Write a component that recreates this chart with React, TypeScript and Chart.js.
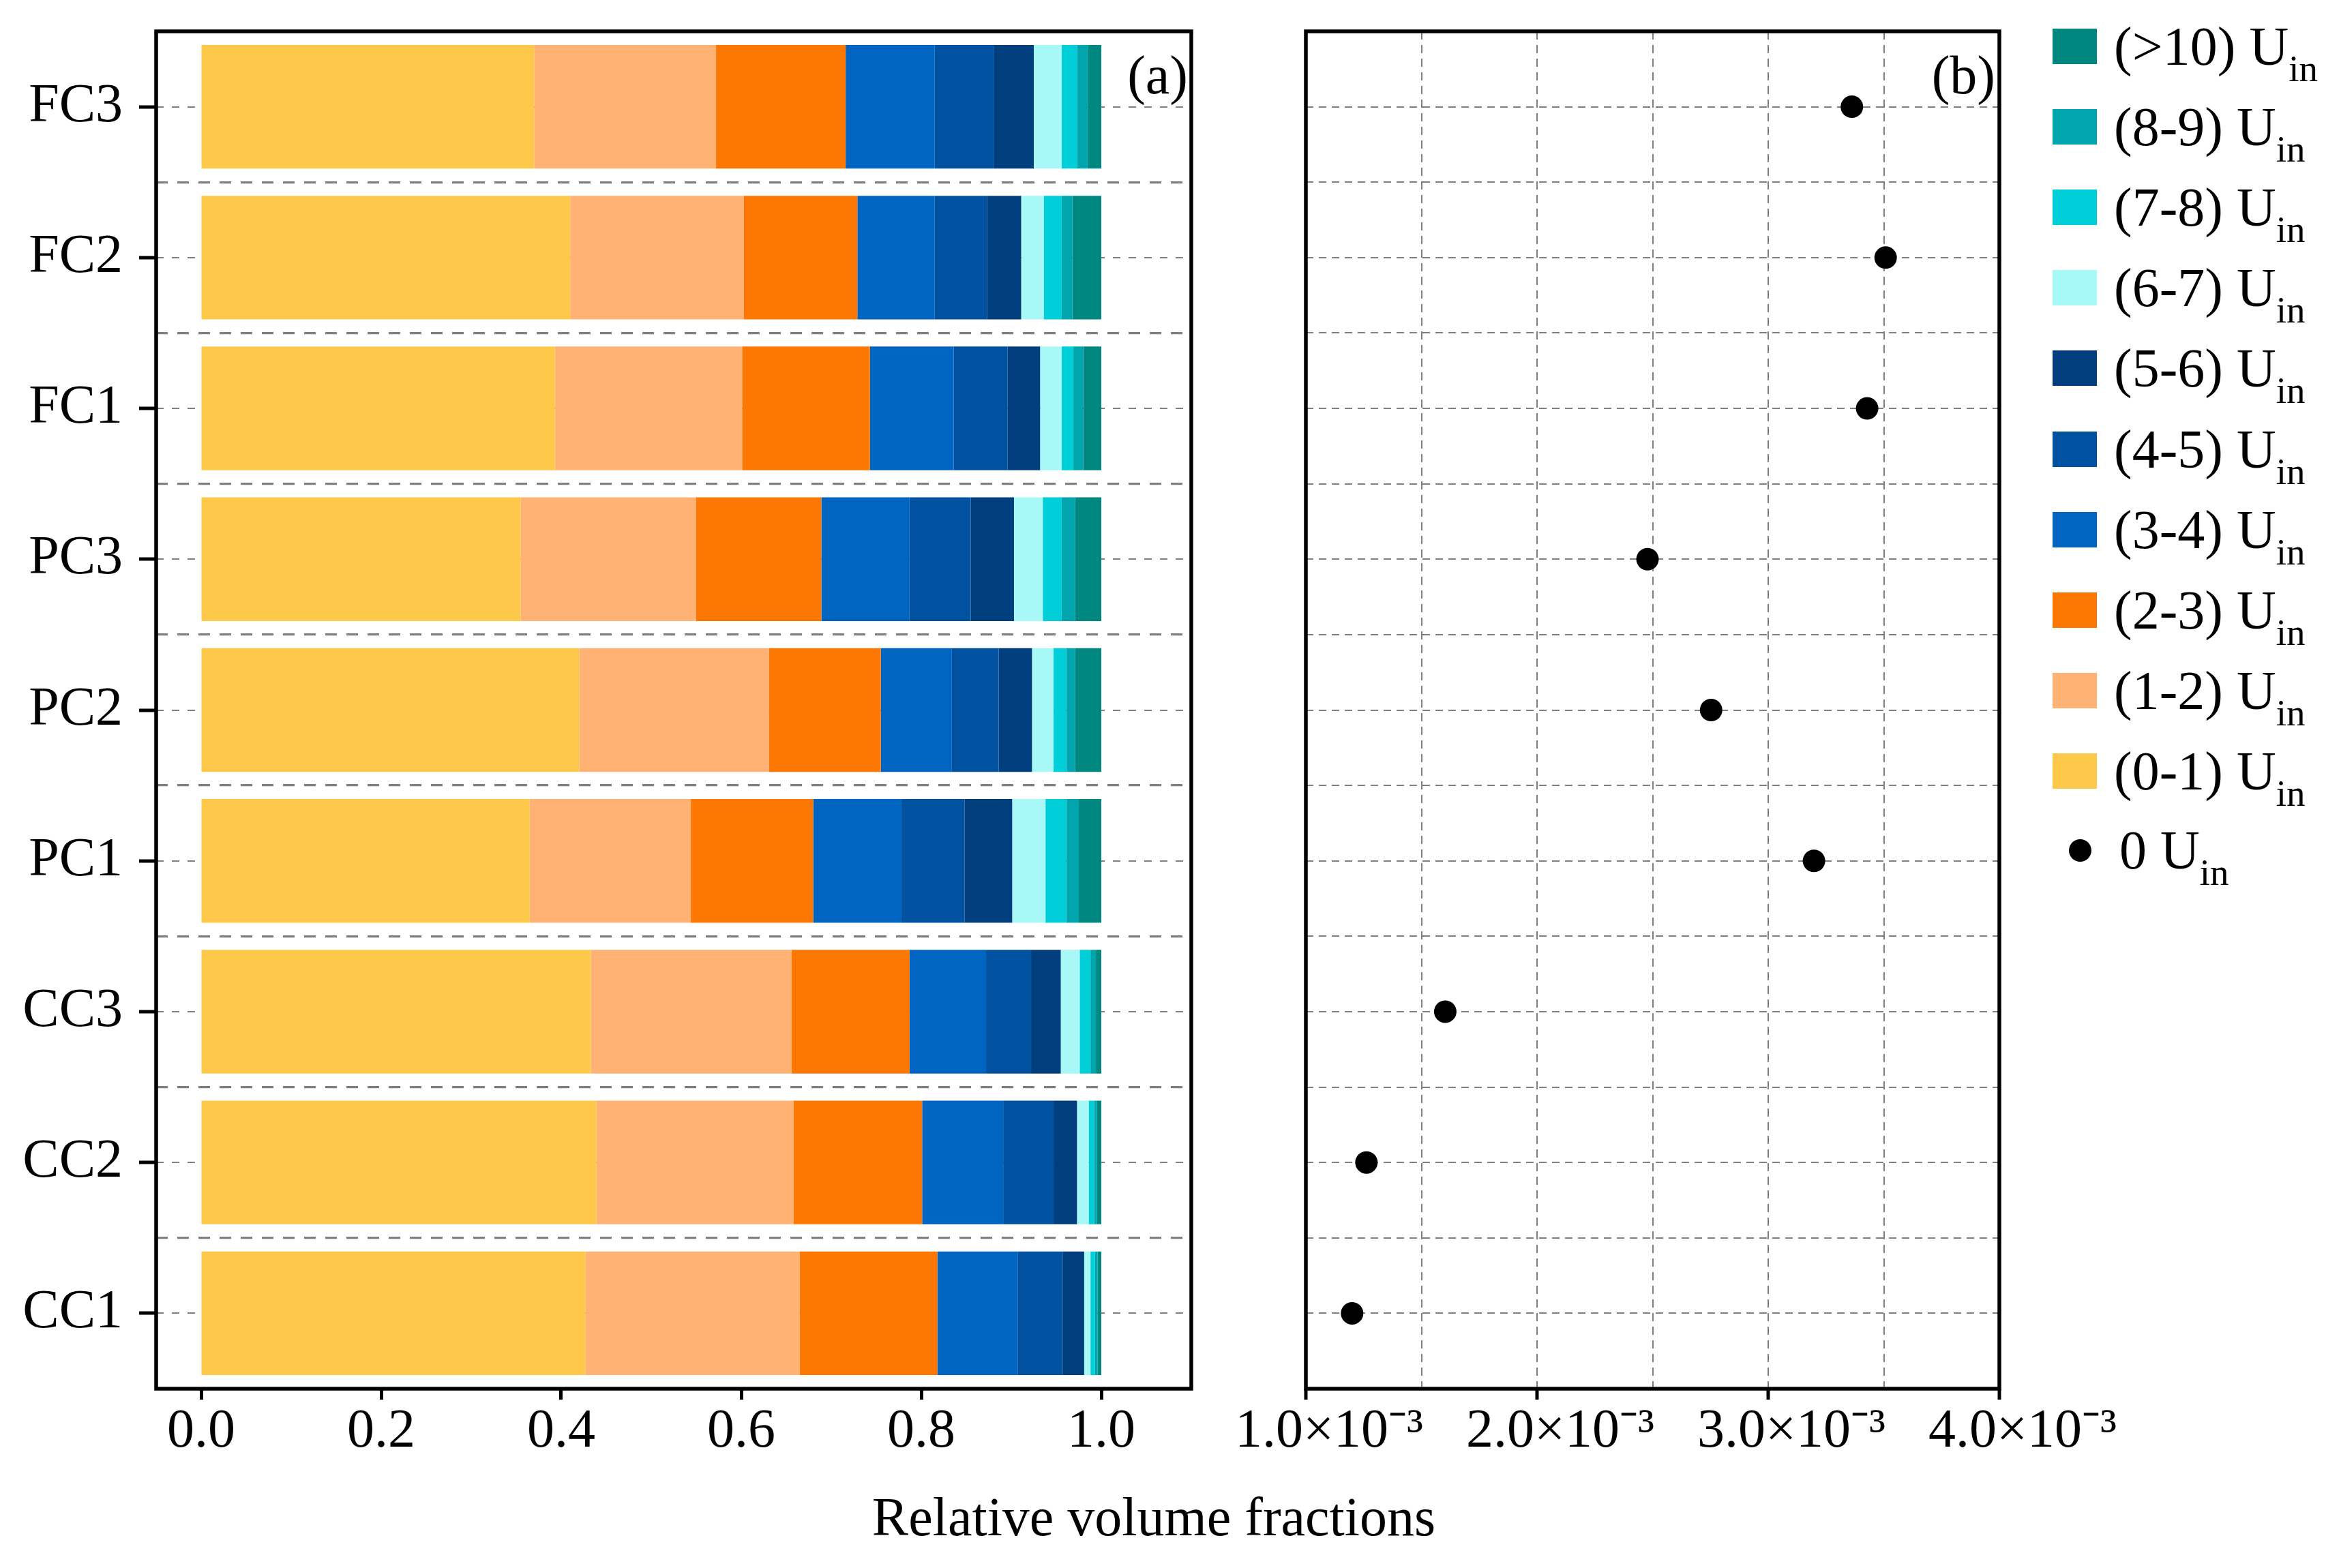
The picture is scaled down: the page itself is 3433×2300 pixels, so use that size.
import { useEffect, useRef } from 'react';
import Chart from 'chart.js/auto';

const FONT = "'Liberation Serif', 'Times New Roman', Times, serif";

// cases, bottom (y = 0) to top
const caseLabels = ['CC1', 'CC2', 'CC3', 'PC1', 'PC2', 'PC3', 'FC1', 'FC2', 'FC3'];

// velocity bins, stacked left to right
const binLabels = ['(0-1)', '(1-2)', '(2-3)', '(3-4)', '(4-5)', '(5-6)', '(6-7)', '(7-8)', '(8-9)', '(>10)'];
const binColors = ['#FEC94B', '#FFB273', '#FD7703', '#0065C1', '#0052A0', '#003E7E', '#A9F8F8', '#00CED9', '#00A5AD', '#008780'];

// relative volume fraction of each bin, one value per case (caseLabels order)
const frac0to1 = [0.427, 0.439, 0.433, 0.365, 0.420, 0.355, 0.393, 0.410, 0.370];
const frac1to2 = [0.238, 0.219, 0.223, 0.179, 0.211, 0.195, 0.208, 0.193, 0.202];
const frac2to3 = [0.153, 0.143, 0.131, 0.136, 0.124, 0.139, 0.142, 0.126, 0.144];
const frac3to4 = [0.089, 0.090, 0.085, 0.098, 0.079, 0.098, 0.093, 0.086, 0.099];
const frac4to5 = [0.050, 0.056, 0.050, 0.070, 0.052, 0.068, 0.060, 0.058, 0.066];
const frac5to6 = [0.024, 0.026, 0.033, 0.053, 0.037, 0.048, 0.036, 0.038, 0.044];
const frac6to7 = [0.007, 0.013, 0.021, 0.037, 0.024, 0.032, 0.024, 0.025, 0.031];
const frac7to8 = [0.005, 0.006, 0.012, 0.023, 0.014, 0.021, 0.013, 0.020, 0.017];
const frac8to9 = [0.003, 0.003, 0.006, 0.014, 0.010, 0.015, 0.011, 0.012, 0.012];
const fracOver10 = [0.004, 0.005, 0.006, 0.025, 0.029, 0.029, 0.020, 0.032, 0.015];
const binFractions = [frac0to1, frac1to2, frac2to3, frac3to4, frac4to5, frac5to6, frac6to7, frac7to8, frac8to9, fracOver10];

// 0 U_in fraction per case
const zeroFraction = [1.200e-3, 1.262e-3, 1.603e-3, 3.198e-3, 2.753e-3, 2.478e-3, 3.428e-3, 3.508e-3, 3.362e-3];

const fractionTicks = [0, 0.2, 0.4, 0.6, 0.8, 1.0];
const zeroTicks = [1e-3, 2e-3, 3e-3, 4e-3];
const zeroGrid = [1e-3, 1.5e-3, 2e-3, 2.5e-3, 3e-3, 3.5e-3, 4e-3];

const caseLines = caseLabels.map((_, i) => i);
const sepLines = caseLabels.slice(1).map((_, i) => i + 0.5);
const rowLines = [...caseLines, ...sepLines];

const isZeroTick = (v: number) => zeroTicks.some((t) => Math.abs(t - v) < 1e-9);
const fmtZero = (v: number) => `${(v * 1e3).toFixed(1)}×10⁻³`;

function framePlugin(tag: string, inset: number) {
  return {
    id: 'frame',
    afterDraw(chart: any) {
      const { ctx, chartArea: a } = chart;
      ctx.save();
      ctx.lineWidth = 5.5;
      ctx.strokeStyle = '#000';
      ctx.strokeRect(a.left, a.top, a.right - a.left, a.bottom - a.top);
      ctx.fillStyle = '#000';
      ctx.font = `80px ${FONT}`;
      ctx.textAlign = 'right';
      ctx.textBaseline = 'alphabetic';
      ctx.fillText(tag, a.right - inset, a.top + 91);
      ctx.restore();
    },
  };
}

function FractionPanel() {
  const ref = useRef<HTMLCanvasElement>(null);

  useEffect(() => {
    if (!ref.current) return;
    const chart = new Chart(ref.current, {
      type: 'bar',
      data: {
        datasets: binFractions.map((values, b) => ({
          label: binLabels[b],
          data: values.map((v, i) => ({ x: v, y: i })),
          backgroundColor: binColors[b],
          borderWidth: 0,
          barPercentage: 0.82,
          categoryPercentage: 1,
        })),
      } as any,
      options: {
        animation: false,
        responsive: false,
        indexAxis: 'y',
        events: [],
        layout: { padding: { top: 46, right: 53, bottom: 0, left: 0 } },
        plugins: { legend: { display: false }, tooltip: { enabled: false } },
        scales: {
          x: {
            type: 'linear',
            stacked: true,
            min: -0.05,
            max: 1.1,
            afterBuildTicks: (s: any) => { s.ticks = fractionTicks.map((v) => ({ value: v })); },
            afterFit: (s: any) => { s.height = 123; s.paddingLeft = 0; s.paddingRight = 0; },
            grid: { drawOnChartArea: false, tickLength: 16, tickWidth: 5, tickColor: '#000' },
            border: { display: false },
            ticks: {
              autoSkip: false, maxRotation: 0, padding: 0, color: '#000',
              font: { family: FONT, size: 80 },
              callback: (v: any) => Number(v).toFixed(1),
            },
          },
          y: {
            type: 'linear',
            stacked: true,
            offset: false,
            min: -0.5,
            max: 8.5,
            afterBuildTicks: (s: any) => { s.ticks = caseLines.map((v) => ({ value: v })); },
            afterFit: (s: any) => { s.width = 229; s.paddingTop = 0; s.paddingBottom = 0; },
            grid: { offset: false, color: 'gray', lineWidth: 2, tickLength: 25, tickWidth: 5, tickColor: '#000' },
            border: { display: false, dash: [11, 12] },
            ticks: {
              autoSkip: false, padding: 24, color: '#000',
              font: { family: FONT, size: 80 },
              callback: (v: any) => caseLabels[Math.round(v)],
            },
          },
          ySep: {
            type: 'linear',
            axis: 'y',
            position: 'left',
            offset: false,
            min: -0.5,
            max: 8.5,
            afterBuildTicks: (s: any) => { s.ticks = sepLines.map((v) => ({ value: v })); },
            afterFit: (s: any) => { s.width = 0; s.paddingTop = 0; s.paddingBottom = 0; },
            grid: { offset: false, color: 'gray', lineWidth: 3.3, drawTicks: false },
            border: { display: false, dash: [17, 14] },
            ticks: { display: false },
          },
        },
      } as any,
      plugins: [framePlugin('(a)', 5)],
    });
    return () => chart.destroy();
  }, []);

  return (
    <canvas ref={ref} width={1800} height={2160}
      style={{ position: 'absolute', left: 0, top: 0, width: 1800, height: 2160 }} />
  );
}

function ZeroPanel() {
  const ref = useRef<HTMLCanvasElement>(null);

  useEffect(() => {
    if (!ref.current) return;
    const chart = new Chart(ref.current, {
      type: 'scatter',
      data: {
        datasets: [{
          label: '0 Uin',
          data: zeroFraction.map((v, i) => ({ x: v, y: i })),
          pointRadius: 16.5,
          pointHoverRadius: 16.5,
          pointBackgroundColor: '#000',
          pointBorderWidth: 0,
        }],
      },
      options: {
        animation: false,
        responsive: false,
        events: [],
        layout: { padding: { top: 46, right: 501, bottom: 0, left: 0 } },
        plugins: { legend: { display: false }, tooltip: { enabled: false } },
        scales: {
          x: {
            type: 'linear',
            min: 1e-3,
            max: 4e-3,
            afterBuildTicks: (s: any) => { s.ticks = zeroGrid.map((v) => ({ value: v })); },
            afterFit: (s: any) => { s.height = 123; s.paddingLeft = 0; s.paddingRight = 0; },
            grid: {
              color: 'gray', lineWidth: 2, tickLength: 16, tickWidth: 5,
              tickColor: (c: any) => (c.tick && isZeroTick(c.tick.value) ? '#000' : 'rgba(0,0,0,0)'),
            },
            border: { display: false, dash: [12, 8] },
            ticks: {
              autoSkip: false, maxRotation: 0, padding: 0, labelOffset: 34, color: '#000',
              font: { family: FONT, size: 80 },
              callback: (v: any) => (isZeroTick(Number(v)) ? fmtZero(Number(v)) : ''),
            },
          },
          y: {
            type: 'linear',
            min: -0.5,
            max: 8.5,
            afterBuildTicks: (s: any) => { s.ticks = rowLines.map((v) => ({ value: v })); },
            afterFit: (s: any) => { s.width = 115; s.paddingTop = 0; s.paddingBottom = 0; },
            grid: { color: 'gray', lineWidth: 2, drawTicks: false },
            border: { display: false, dash: [11, 8] },
            ticks: { display: false },
          },
        },
      } as any,
      plugins: [framePlugin('(b)', 6)],
    });
    return () => chart.destroy();
  }, []);

  return (
    <canvas ref={ref} width={1633} height={2160}
      style={{ position: 'absolute', left: 1800, top: 0, width: 1633, height: 2160 }} />
  );
}

const subStyle = { fontSize: 55, position: 'relative' as const, top: 24, lineHeight: 0 };

function Legend() {
  const order = binLabels.map((_, i) => binLabels.length - 1 - i);
  return (
    <>
      {order.map((b, k) => {
        const cy = 67.5 + k * 118.2;
        return (
          <div key={b}>
            <div style={{ position: 'absolute', left: 3010, top: cy - 26, width: 65, height: 52, background: binColors[b] }} />
            <div style={{ position: 'absolute', left: 3100, top: cy - 40, height: 80, lineHeight: '80px', fontSize: 80, whiteSpace: 'nowrap' }}>
              {binLabels[b]} U<span style={subStyle}>in</span>
            </div>
          </div>
        );
      })}
      <div style={{ position: 'absolute', left: 3050 - 16.5, top: 1247 - 16.5, width: 33, height: 33, borderRadius: '50%', background: '#000' }} />
      <div style={{ position: 'absolute', left: 3108, top: 1247 - 40, height: 80, lineHeight: '80px', fontSize: 80, whiteSpace: 'nowrap' }}>
        0 U<span style={subStyle}>in</span>
      </div>
    </>
  );
}

export default function App() {
  return (
    <div style={{
      position: 'absolute', left: 0, top: 0, width: 3433, height: 2300, overflow: 'hidden',
      background: '#fff', color: '#000', fontFamily: FONT,
    }}>
      <FractionPanel />
      <ZeroPanel />
      <Legend />
      <div style={{ position: 'absolute', left: 0, width: 3384, top: 2185, textAlign: 'center', fontSize: 80, lineHeight: '80px', whiteSpace: 'nowrap' }}>
        Relative volume fractions
      </div>
    </div>
  );
}
